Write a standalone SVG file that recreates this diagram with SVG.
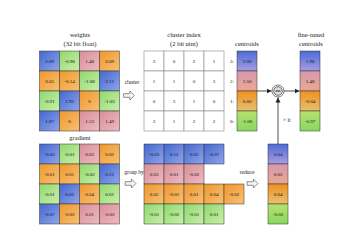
<svg xmlns="http://www.w3.org/2000/svg" width="354" height="250" viewBox="0 0 354 250">
<defs>
<linearGradient id="gb" x1="0" y1="0" x2="1" y2="1"><stop offset="0" stop-color="#4468d0"/><stop offset="1" stop-color="#8fa4ec"/></linearGradient>
<linearGradient id="gg" x1="0" y1="0" x2="1" y2="1"><stop offset="0" stop-color="#90d870"/><stop offset="1" stop-color="#c8f0a8"/></linearGradient>
<linearGradient id="gp" x1="0" y1="0" x2="1" y2="1"><stop offset="0" stop-color="#d89098"/><stop offset="1" stop-color="#f0b8c0"/></linearGradient>
<linearGradient id="go" x1="0" y1="0" x2="1" y2="1"><stop offset="0" stop-color="#ee9830"/><stop offset="1" stop-color="#f8c070"/></linearGradient>
<linearGradient id="cb" x1="0" y1="0" x2="0" y2="1"><stop offset="0" stop-color="#4c6cd8"/><stop offset="1" stop-color="#a89ce0"/></linearGradient>
<linearGradient id="cp" x1="0" y1="0" x2="0" y2="1"><stop offset="0" stop-color="#d898b0"/><stop offset="1" stop-color="#e8a890"/></linearGradient>
<linearGradient id="co" x1="0" y1="0" x2="0" y2="1"><stop offset="0" stop-color="#f09020"/><stop offset="1" stop-color="#e8c070"/></linearGradient>
<linearGradient id="cg" x1="0" y1="0" x2="0" y2="1"><stop offset="0" stop-color="#b8e070"/><stop offset="1" stop-color="#88d860"/></linearGradient>
<marker id="ah" markerWidth="6" markerHeight="6" refX="5" refY="3" orient="auto" markerUnits="userSpaceOnUse"><path d="M0,0.5 L5,3 L0,5.5 z" fill="#222"/></marker>
<symbol id="harrow" viewBox="0 0 12 10" overflow="visible"><path d="M0,3 L7,3 L7,0 L12,5 L7,10 L7,7 L0,7 z" fill="#f4f4f4" stroke="#666" stroke-width="0.8"/></symbol>
</defs>
<style>
.c{stroke:#333;stroke-width:0.5}
.w{fill:#fff;stroke:#888;stroke-width:0.6}
.t{font-family:"Liberation Serif",serif;font-size:5px;fill:#111;text-anchor:middle}
.h{font-family:"Liberation Serif",serif;font-size:6.5px;fill:#222;text-anchor:middle}
.l{font-family:"Liberation Serif",serif;font-size:5.5px;fill:#222;text-anchor:middle}
.cn{fill:none;stroke:#222;stroke-width:0.8}
</style>
<rect width="354" height="250" fill="#fff"/>

<g id="weights">
<text class="h" x="80" y="37">weights</text>
<text class="h" x="80" y="46">(32 bit float)</text>
<rect class="c" x="39.5" y="51" width="20" height="20" fill="url(#gb)"/><text class="t" x="49.5" y="62.7">2.09</text>
<rect class="c" x="59.5" y="51" width="20" height="20" fill="url(#gg)"/><text class="t" x="69.5" y="62.7">-0.98</text>
<rect class="c" x="79.5" y="51" width="20" height="20" fill="url(#gp)"/><text class="t" x="89.5" y="62.7">1.48</text>
<rect class="c" x="99.5" y="51" width="20" height="20" fill="url(#go)"/><text class="t" x="109.5" y="62.7">0.09</text>
<rect class="c" x="39.5" y="71" width="20" height="20" fill="url(#go)"/><text class="t" x="49.5" y="82.7">0.05</text>
<rect class="c" x="59.5" y="71" width="20" height="20" fill="url(#go)"/><text class="t" x="69.5" y="82.7">-0.14</text>
<rect class="c" x="79.5" y="71" width="20" height="20" fill="url(#gg)"/><text class="t" x="89.5" y="82.7">-1.08</text>
<rect class="c" x="99.5" y="71" width="20" height="20" fill="url(#gb)"/><text class="t" x="109.5" y="82.7">2.12</text>
<rect class="c" x="39.5" y="91" width="20" height="20" fill="url(#gg)"/><text class="t" x="49.5" y="102.7">-0.91</text>
<rect class="c" x="59.5" y="91" width="20" height="20" fill="url(#gb)"/><text class="t" x="69.5" y="102.7">1.92</text>
<rect class="c" x="79.5" y="91" width="20" height="20" fill="url(#go)"/><text class="t" x="89.5" y="102.7">0</text>
<rect class="c" x="99.5" y="91" width="20" height="20" fill="url(#gg)"/><text class="t" x="109.5" y="102.7">-1.03</text>
<rect class="c" x="39.5" y="111" width="20" height="20" fill="url(#gb)"/><text class="t" x="49.5" y="122.7">1.87</text>
<rect class="c" x="59.5" y="111" width="20" height="20" fill="url(#go)"/><text class="t" x="69.5" y="122.7">0</text>
<rect class="c" x="79.5" y="111" width="20" height="20" fill="url(#gp)"/><text class="t" x="89.5" y="122.7">1.53</text>
<rect class="c" x="99.5" y="111" width="20" height="20" fill="url(#gp)"/><text class="t" x="109.5" y="122.7">1.49</text>
</g>

<g id="cluster-index">
<text class="h" x="184" y="37">cluster index</text>
<text class="h" x="184" y="46">(2 bit uint)</text>
<rect class="w" x="144" y="51" width="20" height="20"/><text class="t" x="154" y="62.7">3</text>
<rect class="w" x="164" y="51" width="20" height="20"/><text class="t" x="174" y="62.7">0</text>
<rect class="w" x="184" y="51" width="20" height="20"/><text class="t" x="194" y="62.7">2</text>
<rect class="w" x="204" y="51" width="20" height="20"/><text class="t" x="214" y="62.7">1</text>
<rect class="w" x="144" y="71" width="20" height="20"/><text class="t" x="154" y="82.7">1</text>
<rect class="w" x="164" y="71" width="20" height="20"/><text class="t" x="174" y="82.7">1</text>
<rect class="w" x="184" y="71" width="20" height="20"/><text class="t" x="194" y="82.7">0</text>
<rect class="w" x="204" y="71" width="20" height="20"/><text class="t" x="214" y="82.7">3</text>
<rect class="w" x="144" y="91" width="20" height="20"/><text class="t" x="154" y="102.7">0</text>
<rect class="w" x="164" y="91" width="20" height="20"/><text class="t" x="174" y="102.7">3</text>
<rect class="w" x="184" y="91" width="20" height="20"/><text class="t" x="194" y="102.7">1</text>
<rect class="w" x="204" y="91" width="20" height="20"/><text class="t" x="214" y="102.7">0</text>
<rect class="w" x="144" y="111" width="20" height="20"/><text class="t" x="154" y="122.7">3</text>
<rect class="w" x="164" y="111" width="20" height="20"/><text class="t" x="174" y="122.7">1</text>
<rect class="w" x="184" y="111" width="20" height="20"/><text class="t" x="194" y="122.7">2</text>
<rect class="w" x="204" y="111" width="20" height="20"/><text class="t" x="214" y="122.7">2</text>
</g>

<g id="centroids">
<text class="h" x="247" y="46">centroids</text>
<text class="t" x="232" y="62.7">3:</text>
<text class="t" x="232" y="82.7">2:</text>
<text class="t" x="232" y="102.7">1:</text>
<text class="t" x="232" y="122.7">0:</text>
<rect class="c" x="237" y="51" width="20" height="20" fill="url(#cb)"/><text class="t" x="247" y="62.7">2.00</text>
<rect class="c" x="237" y="71" width="20" height="20" fill="url(#cp)"/><text class="t" x="247" y="82.7">1.50</text>
<rect class="c" x="237" y="91" width="20" height="20" fill="url(#co)"/><text class="t" x="247" y="102.7">0.00</text>
<rect class="c" x="237" y="111" width="20" height="20" fill="url(#cg)"/><text class="t" x="247" y="122.7">-1.00</text>
</g>

<g id="fine-tuned-centroids">
<text class="h" x="311" y="37">fine-tuned</text>
<text class="h" x="311" y="46">centroids</text>
<rect class="c" x="300" y="51" width="20" height="20" fill="url(#cb)"/><text class="t" x="310" y="62.7">1.96</text>
<rect class="c" x="300" y="71" width="20" height="20" fill="url(#cp)"/><text class="t" x="310" y="82.7">1.48</text>
<rect class="c" x="300" y="91" width="20" height="20" fill="url(#co)"/><text class="t" x="310" y="102.7">-0.04</text>
<rect class="c" x="300" y="111" width="20" height="20" fill="url(#cg)"/><text class="t" x="310" y="122.7">-0.97</text>
</g>

<g id="gradient">
<text class="h" x="80" y="140">gradient</text>
<rect class="c" x="39.5" y="144" width="20" height="20" fill="url(#gb)"/><text class="t" x="49.5" y="155.7">-0.03</text>
<rect class="c" x="59.5" y="144" width="20" height="20" fill="url(#gg)"/><text class="t" x="69.5" y="155.7">-0.01</text>
<rect class="c" x="79.5" y="144" width="20" height="20" fill="url(#gp)"/><text class="t" x="89.5" y="155.7">0.03</text>
<rect class="c" x="99.5" y="144" width="20" height="20" fill="url(#go)"/><text class="t" x="109.5" y="155.7">0.02</text>
<rect class="c" x="39.5" y="164" width="20" height="20" fill="url(#go)"/><text class="t" x="49.5" y="175.7">-0.01</text>
<rect class="c" x="59.5" y="164" width="20" height="20" fill="url(#go)"/><text class="t" x="69.5" y="175.7">0.01</text>
<rect class="c" x="79.5" y="164" width="20" height="20" fill="url(#gg)"/><text class="t" x="89.5" y="175.7">-0.02</text>
<rect class="c" x="99.5" y="164" width="20" height="20" fill="url(#gb)"/><text class="t" x="109.5" y="175.7">0.12</text>
<rect class="c" x="39.5" y="184" width="20" height="20" fill="url(#gg)"/><text class="t" x="49.5" y="195.7">-0.01</text>
<rect class="c" x="59.5" y="184" width="20" height="20" fill="url(#gb)"/><text class="t" x="69.5" y="195.7">0.02</text>
<rect class="c" x="79.5" y="184" width="20" height="20" fill="url(#go)"/><text class="t" x="89.5" y="195.7">0.04</text>
<rect class="c" x="99.5" y="184" width="20" height="20" fill="url(#gg)"/><text class="t" x="109.5" y="195.7">0.01</text>
<rect class="c" x="39.5" y="204" width="20" height="20" fill="url(#gb)"/><text class="t" x="49.5" y="215.7">-0.07</text>
<rect class="c" x="59.5" y="204" width="20" height="20" fill="url(#go)"/><text class="t" x="69.5" y="215.7">-0.02</text>
<rect class="c" x="79.5" y="204" width="20" height="20" fill="url(#gp)"/><text class="t" x="89.5" y="215.7">0.01</text>
<rect class="c" x="99.5" y="204" width="20" height="20" fill="url(#gp)"/><text class="t" x="109.5" y="215.7">-0.02</text>
</g>

<g id="grouped-gradient">
<rect class="c" x="144" y="144" width="20" height="20" fill="url(#gb)"/><text class="t" x="154" y="155.7">-0.03</text>
<rect class="c" x="164" y="144" width="20" height="20" fill="url(#gb)"/><text class="t" x="174" y="155.7">0.12</text>
<rect class="c" x="184" y="144" width="20" height="20" fill="url(#gb)"/><text class="t" x="194" y="155.7">0.02</text>
<rect class="c" x="204" y="144" width="20" height="20" fill="url(#gb)"/><text class="t" x="214" y="155.7">-0.07</text>
<rect class="c" x="144" y="164" width="20" height="20" fill="url(#gp)"/><text class="t" x="154" y="175.7">0.03</text>
<rect class="c" x="164" y="164" width="20" height="20" fill="url(#gp)"/><text class="t" x="174" y="175.7">0.01</text>
<rect class="c" x="184" y="164" width="20" height="20" fill="url(#gp)"/><text class="t" x="194" y="175.7">-0.02</text>
<rect class="c" x="144" y="184" width="20" height="20" fill="url(#go)"/><text class="t" x="154" y="195.7">0.02</text>
<rect class="c" x="164" y="184" width="20" height="20" fill="url(#go)"/><text class="t" x="174" y="195.7">-0.01</text>
<rect class="c" x="184" y="184" width="20" height="20" fill="url(#go)"/><text class="t" x="194" y="195.7">0.01</text>
<rect class="c" x="204" y="184" width="20" height="20" fill="url(#go)"/><text class="t" x="214" y="195.7">0.04</text>
<rect class="c" x="224" y="184" width="20" height="20" fill="url(#go)"/><text class="t" x="234" y="195.7">-0.02</text>
<rect class="c" x="144" y="204" width="20" height="20" fill="url(#gg)"/><text class="t" x="154" y="215.7">-0.01</text>
<rect class="c" x="164" y="204" width="20" height="20" fill="url(#gg)"/><text class="t" x="174" y="215.7">-0.02</text>
<rect class="c" x="184" y="204" width="20" height="20" fill="url(#gg)"/><text class="t" x="194" y="215.7">-0.01</text>
<rect class="c" x="204" y="204" width="20" height="20" fill="url(#gg)"/><text class="t" x="214" y="215.7">0.01</text>
</g>

<g id="reduced">
<rect class="c" x="268" y="144" width="20" height="20" fill="url(#cb)"/><text class="t" x="278" y="155.7">0.04</text>
<rect class="c" x="268" y="164" width="20" height="20" fill="url(#cp)"/><text class="t" x="278" y="175.7">0.02</text>
<rect class="c" x="268" y="184" width="20" height="20" fill="url(#co)"/><text class="t" x="278" y="195.7">0.04</text>
<rect class="c" x="268" y="204" width="20" height="20" fill="url(#cg)"/><text class="t" x="278" y="215.7">-0.03</text>
</g>

<g id="subtract">
<circle cx="278" cy="91" r="6" fill="#fff" stroke="#555" stroke-width="0.8"/>
<circle cx="278" cy="91" r="4.3" fill="#ddd" stroke="#333" stroke-width="0.7"/>
<line x1="275.5" y1="91" x2="280.5" y2="91" stroke="#111" stroke-width="0.9"/>
</g>

<g id="connectors">
<text class="l" x="132" y="84">cluster</text>
<use href="#harrow" x="123" y="91" width="12" height="9"/>
<text class="l" x="134" y="174">group by</text>
<use href="#harrow" x="124" y="179" width="13" height="9"/>
<text class="l" x="247" y="174">reduce</text>
<use href="#harrow" x="247" y="179" width="11" height="9"/>
<line class="cn" x1="257" y1="91" x2="271.5" y2="91" marker-end="url(#ah)"/>
<line class="cn" x1="284" y1="91" x2="299.5" y2="91" marker-end="url(#ah)"/>
<line class="cn" x1="278" y1="144" x2="278" y2="97.5" marker-end="url(#ah)"/>
<text class="l" x="287" y="122">× lr</text>
</g>
</svg>
